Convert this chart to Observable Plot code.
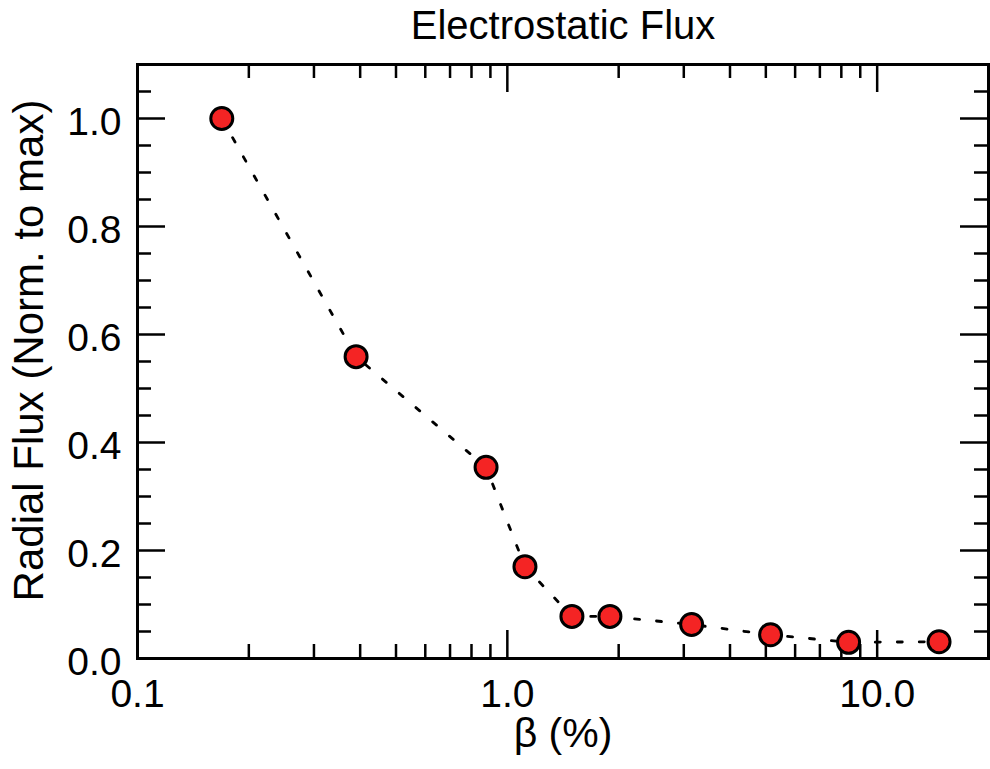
<!DOCTYPE html>
<html>
<head>
<meta charset="utf-8">
<script src="https://cdn.jsdelivr.net/npm/d3@7"></script>
<script src="https://cdn.jsdelivr.net/npm/@observablehq/plot@0.6"></script>
<style>
  html, body { margin: 0; padding: 0; background: #fff; }
</style>
</head>
<body>
<div id="chart"></div>
<script>
// Data
const beta = [0.169, 0.390, 0.876, 1.116, 1.495, 1.894, 3.15, 5.15, 8.37, 14.7];
const flux = [1.0, 0.559, 0.354, 0.170, 0.078, 0.078, 0.063, 0.044, 0.030, 0.031];

// Tick values / labels
const xMajor = [0.1, 1, 10];
const xMinor = [0.2, 0.3, 0.4, 0.5, 0.6, 0.7, 0.8, 0.9, 2, 3, 4, 5, 6, 7, 8, 9];
const yMajor = [0, 0.2, 0.4, 0.6, 0.8, 1.0];
const yMinor = [0.05, 0.1, 0.15, 0.25, 0.3, 0.35, 0.45, 0.5, 0.55, 0.65, 0.7, 0.75, 0.85, 0.9, 0.95, 1.05];

const title = "Electrostatic Flux";
const xLabel = "β (%)";
const yLabel = "Radial Flux (Norm. to max)";

const data = beta.map((b, i) => ({beta: b, flux: flux[i]}));

const W = 990, H = 769;
const mL = 137, mR = 2, mT = 64, mB = 111;
const pw = W - mL - mR, ph = H - mT - mB;
const majorLen = 28, minorLen = 14;
const fmt = d3.format(".1f");

const chart = Plot.plot({
  width: W,
  height: H,
  marginLeft: mL,
  marginRight: mR,
  marginTop: mT,
  marginBottom: mB,
  style: {fontFamily: "Liberation Sans, Arial, Helvetica, sans-serif", fontSize: "39px", background: "white", color: "black"},
  x: {type: "log", domain: [0.1, 20]},
  y: {domain: [0, 1.1]},
  marks: [
    // ticks (inside the frame, on all four sides)
    Plot.tickX(xMajor, {x: d => d, insetTop: ph - majorLen, stroke: "black", strokeWidth: 2.5}),
    Plot.tickX(xMinor, {x: d => d, insetTop: ph - minorLen, stroke: "black", strokeWidth: 2.5}),
    Plot.tickX(xMajor, {x: d => d, insetBottom: ph - majorLen, stroke: "black", strokeWidth: 2.5}),
    Plot.tickX(xMinor, {x: d => d, insetBottom: ph - minorLen, stroke: "black", strokeWidth: 2.5}),
    Plot.tickY(yMajor, {y: d => d, insetRight: pw - majorLen, stroke: "black", strokeWidth: 2.5}),
    Plot.tickY(yMinor, {y: d => d, insetRight: pw - minorLen, stroke: "black", strokeWidth: 2.5}),
    Plot.tickY(yMajor, {y: d => d, insetLeft: pw - majorLen, stroke: "black", strokeWidth: 2.5}),
    Plot.tickY(yMinor, {y: d => d, insetLeft: pw - minorLen, stroke: "black", strokeWidth: 2.5}),
    Plot.frame({stroke: "black", strokeWidth: 3}),
    // tick labels
    Plot.axisX({ticks: xMajor, tickSize: 0, tickPadding: 21, tickFormat: fmt, label: null, fontSize: 39}),
    Plot.axisY({ticks: yMajor, tickSize: 0, tickPadding: 16, tickFormat: fmt, label: null, fontSize: 39, dy: 4}),
    // titles
    Plot.text([title], {frameAnchor: "top", text: d => d, dy: -38, fontSize: 40, lineAnchor: "middle", textAnchor: "middle"}),
    Plot.text([xLabel], {frameAnchor: "bottom", text: d => d, dy: 75, fontSize: 41, lineAnchor: "middle", textAnchor: "middle"}),
    Plot.text([yLabel], {frameAnchor: "left", text: d => d, rotate: -90, dx: -108, dy: -11, fontSize: 42, lineAnchor: "middle", textAnchor: "middle"}),
    // data
    Plot.line(data, {x: "beta", y: "flux", stroke: "black", strokeWidth: 2.8, strokeDasharray: "5,17"}),
    Plot.dot(data, {x: "beta", y: "flux", r: 11, fill: "#f42424", stroke: "black", strokeWidth: 3})
  ]
});
document.getElementById("chart").appendChild(chart);
</script>
</body>
</html>
